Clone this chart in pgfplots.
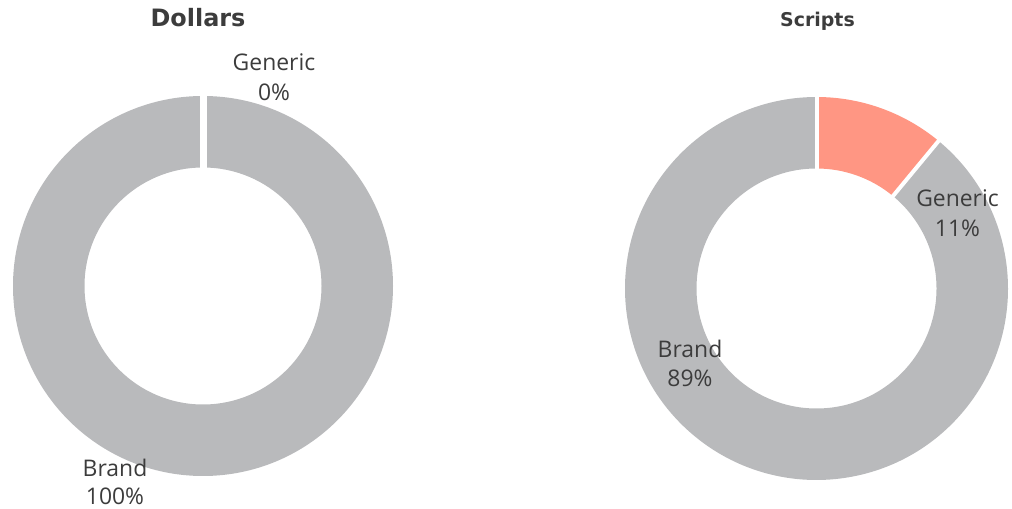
\documentclass[border=0pt]{standalone}
\usepackage{pgfplots}
\usepackage{pgfplotstable}
\pgfplotsset{compat=1.18}
\usepackage{fontspec}
\setmainfont{Open Sans}
\newfontfamily\titlefont{DejaVu Sans}

\definecolor{brandgray}{HTML}{B9BABC}
\definecolor{genred}{HTML}{FF9683}
\definecolor{txt}{HTML}{3C3C3C}

% share of each chart, in percent
\pgfplotstableread{
chart   generic brand
Dollars 0       100
Scripts 11      89
}\shares

% ring sector: cx cy rinner router a1 a2 colour
\newcommand{\sector}[7]{%
  \fill[#7] (axis cs:{#1+#4*cos(#5)},{#2+#4*sin(#5)})
    arc[start angle=#5, end angle=#6, radius=#4bp]
    -- (axis cs:{#1+#3*cos(#6)},{#2+#3*sin(#6)})
    arc[start angle=#6, end angle=#5, radius=#3bp] -- cycle;}
\newcommand{\gap}[6]{%
  \draw[white, line width=#6] (axis cs:{#1+(#3-1)*cos(#5)},{#2+(#3-1)*sin(#5)})
    -- (axis cs:{#1+(#4+1)*cos(#5)},{#2+(#4+1)*sin(#5)});}

\begin{document}
\begin{tikzpicture}
\pgfplotstablegetelem{0}{generic}\of\shares \let\dgen\pgfplotsretval
\pgfplotstablegetelem{1}{generic}\of\shares \let\sgen\pgfplotsretval
\begin{axis}[
  width=1012bp, height=509bp, scale only axis,
  xmin=0, xmax=1012, ymin=0, ymax=509,
  hide axis, clip=false,
]
\coordinate (ll) at (axis cs:0,0);
\coordinate (ur) at (axis cs:1012,509);
\pgfmathsetmacro{\da}{90-3.6*\dgen}
\pgfmathsetmacro{\sa}{90-3.6*\sgen}

% Dollars
\sector{203}{223}{118.5}{190}{90}{\da}{genred}
\sector{203}{223}{118.5}{190}{\da}{-270}{brandgray}
\gap{203}{223}{118.5}{190}{90}{7bp}

% Scripts
\sector{816.5}{220.5}{120}{191.5}{90}{\sa}{genred}
\sector{816.5}{220.5}{120}{191.5}{\sa}{-270}{brandgray}
\gap{816.5}{220.5}{120}{191.5}{90}{4bp}
\gap{816.5}{220.5}{120}{191.5}{\sa}{4bp}

\begin{scope}[every node/.style={text=txt, inner sep=0pt, anchor=base,
    font=\fontsize{23}{28}\selectfont}]
\node at (axis cs:198,482) {\titlefont\fontsize{24}{28}\selectfont\bfseries Dollars};
\node at (axis cs:817.5,482) {\titlefont\fontsize{19}{22}\selectfont\bfseries Scripts};
\node at (axis cs:274,438) {Generic};
\node at (axis cs:274,408) {0\%};
\node at (axis cs:115,32.5) {Brand};
\node at (axis cs:115,4) {100\%};
\node at (axis cs:957.5,302.5) {Generic};
\node at (axis cs:957.5,272.5) {11\%};
\node at (axis cs:690,151) {Brand};
\node at (axis cs:690,122.5) {89\%};
\end{scope}
\end{axis}
\pgfresetboundingbox
\useasboundingbox (ll) rectangle (ur);
\end{tikzpicture}
\end{document}
